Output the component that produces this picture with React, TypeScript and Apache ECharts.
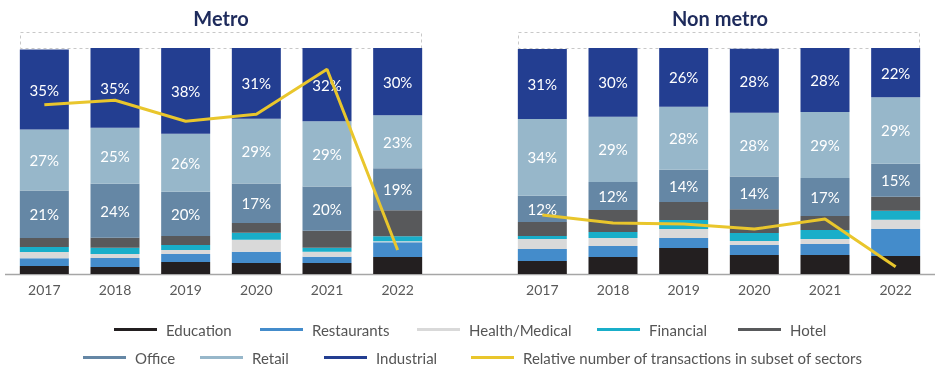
import React, { useEffect, useRef } from "react";
import * as echarts from "echarts";

const years = ["2017", "2018", "2019", "2020", "2021", "2022"];
const sectorNames = ["Education", "Restaurants", "Health/Medical", "Financial", "Hotel", "Office", "Retail", "Industrial"];
const lineName = "Relative number of transactions in subset of sectors";
const sectorColors = ["#231f20", "#448ccb", "#d9d9d9", "#19aec9", "#58595b", "#6587a5", "#97b7ca", "#233e91"];
const lineColor = "#e9c62c";

// Metro shares (%)
const metroEducation = [3.5, 3.1, 5.3, 4.9, 4.9, 7.5];
const metroRestaurants = [3.5, 4.0, 3.5, 4.9, 2.7, 6.6];
const metroHealth = [2.7, 1.8, 1.8, 5.3, 2.2, 0.4];
const metroFinancial = [2.2, 2.7, 2.2, 3.1, 1.8, 2.2];
const metroHotel = [4.0, 4.4, 4.0, 4.4, 7.5, 11.5];
const metroOffice = [21, 23.9, 19.6, 17.4, 19.6, 18.6];
const metroRetail = [27, 24.8, 25.7, 28.7, 28.9, 23.4];
const metroIndustrial = [35.4, 35.3, 37.9, 31.3, 32.4, 29.8];
const metroTransactions = [74.9, 76.9, 67.6, 70.7, 90.6, 10.6];

// Non metro shares (%)
const nonEducation = [5.8, 7.5, 11.5, 8.4, 8.4, 8.0];
const nonRestaurants = [5.3, 4.9, 4.4, 4.4, 4.9, 12.0];
const nonHealth = [4.4, 3.5, 4.0, 1.8, 2.2, 4.0];
const nonFinancial = [1.3, 2.7, 4.0, 3.5, 4.0, 4.0];
const nonHotel = [6.2, 9.7, 8.0, 10.6, 6.2, 6.2];
const nonOffice = [11.6, 12.4, 14.2, 14.4, 16.8, 14.6];
const nonRetail = [34, 28.9, 27.9, 28.3, 29.2, 29.4];
const nonIndustrial = [31, 30.4, 26, 28.3, 28.3, 21.8];
const nonTransactions = [26.1, 22.6, 22.1, 19.9, 24.3, 3.2];

const metroSets = [metroEducation, metroRestaurants, metroHealth, metroFinancial, metroHotel, metroOffice, metroRetail, metroIndustrial];
const nonSets = [nonEducation, nonRestaurants, nonHealth, nonFinancial, nonHotel, nonOffice, nonRetail, nonIndustrial];

const FONT = "Lato";

export default function App() {
  const ref = useRef<HTMLDivElement>(null);
  useEffect(() => {
    if (!ref.current) return;
    const chart = echarts.init(ref.current, undefined, { renderer: "svg" });

    const labelled = new Set(["Office", "Retail", "Industrial"]);
    const makeBars = (sets: number[][], gi: number, stack: string) =>
      sets.map((d, i) => ({
        name: sectorNames[i],
        type: "bar",
        stack,
        xAxisIndex: gi,
        yAxisIndex: gi * 2,
        barWidth: 49,
        data: d,
        itemStyle: { color: sectorColors[i] },
        label: {
          show: labelled.has(sectorNames[i]),
          position: "inside",
          color: "#ffffff",
          fontSize: 15,
          fontFamily: FONT,
          formatter: (p: any) => Math.round(p.value) + "%",
        },
      }));

    const makeLine = (d: number[], gi: number) => ({
      name: lineName,
      type: "line",
      xAxisIndex: gi,
      yAxisIndex: gi * 2 + 1,
      data: d,
      showSymbol: false,
      symbol: "none",
      lineStyle: { color: lineColor, width: 3 },
      itemStyle: { color: lineColor },
      z: 5,
    });

    const legendPos: { name: string; left: number; top: number }[] = [
      { name: "Education", left: 114, top: 322 },
      { name: "Restaurants", left: 260, top: 322 },
      { name: "Health/Medical", left: 417, top: 322 },
      { name: "Financial", left: 597, top: 322 },
      { name: "Hotel", left: 738, top: 322 },
      { name: "Office", left: 83, top: 350 },
      { name: "Retail", left: 200, top: 350 },
      { name: "Industrial", left: 324, top: 350 },
      { name: lineName, left: 471, top: 350 },
    ];
    const colorOf = (n: string) => (n === lineName ? lineColor : sectorColors[sectorNames.indexOf(n)]);

    const xAxisBase = {
      type: "category",
      data: years,
      axisLine: { show: false },
      axisTick: { show: false },
      axisLabel: { color: "#595959", fontSize: 14, fontFamily: FONT, margin: 8 },
    };
    const yHidden = { type: "value", min: 0, max: 100, show: false, splitLine: { show: false } };

    chart.setOption({
      animation: false,
      textStyle: { fontFamily: FONT },
      grid: [
        { left: 9, top: 48, width: 424, height: 226 },
        { left: 507, top: 48, width: 424, height: 226 },
      ],
      xAxis: [
        { ...xAxisBase, gridIndex: 0 },
        { ...xAxisBase, gridIndex: 1 },
      ],
      yAxis: [
        { ...yHidden, gridIndex: 0 },
        { ...yHidden, gridIndex: 0 },
        { ...yHidden, gridIndex: 1 },
        { ...yHidden, gridIndex: 1 },
      ],
      legend: legendPos.map((l) => ({
        data: [{ name: l.name, icon: "rect", itemStyle: { color: colorOf(l.name) } }],
        left: l.left,
        top: l.top,
        padding: 0,
        itemWidth: 43,
        itemHeight: 3,
        textStyle: { color: "#555555", fontSize: 15, fontFamily: FONT, padding: [0, 0, 0, 4] },
      })),
      graphic: [
        {
          type: "rect",
          z: 0,
          shape: { x: 20.5, y: 32.5, width: 401, height: 16 },
          style: { fill: "none", stroke: "#c8c8c8", lineWidth: 1, lineDash: [3, 3] },
        },
        {
          type: "rect",
          z: 0,
          shape: { x: 518.5, y: 32.5, width: 401, height: 16 },
          style: { fill: "none", stroke: "#c8c8c8", lineWidth: 1, lineDash: [3, 3] },
        },
        {
          type: "line",
          z: 0,
          shape: { x1: 5, y1: 274.5, x2: 935, y2: 274.5 },
          style: { stroke: "#a6a6a6", lineWidth: 1.5 },
        },
        {
          type: "text",
          x: 221,
          y: 18,
          style: { text: "Metro", fill: "#1e2b5c", font: `bold 20px ${FONT}`, textAlign: "center", textVerticalAlign: "middle" },
        },
        {
          type: "text",
          x: 720,
          y: 18,
          style: { text: "Non metro", fill: "#1e2b5c", font: `bold 20px ${FONT}`, textAlign: "center", textVerticalAlign: "middle" },
        },
      ],
      series: [
        ...makeBars(metroSets, 0, "metro"),
        makeLine(metroTransactions, 0),
        ...makeBars(nonSets, 1, "non"),
        makeLine(nonTransactions, 1),
      ],
    });
    return () => chart.dispose();
  }, []);
  return <div ref={ref} style={{ position: "fixed", left: 0, top: 0, width: 938, height: 384 }} />;
}
